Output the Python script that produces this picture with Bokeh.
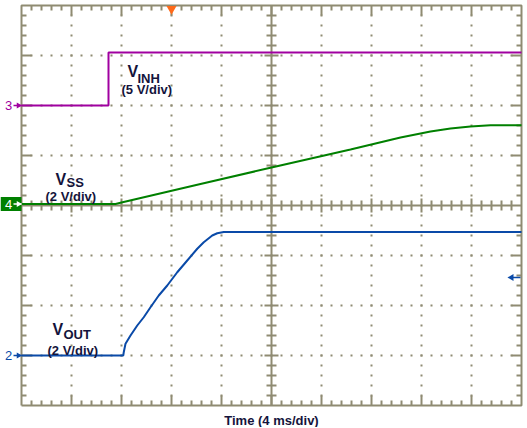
import numpy as np
from bokeh.plotting import figure
from bokeh.models import Range1d
from bokeh.core.properties import value
from bokeh.embed import file_html
from bokeh.resources import INLINE

# ---------------- data (time in ms, voltage in V) ----------------
vinh_t_ms = [0, 6.96, 6.96, 40]
vinh_v = [0, 0, 5.3, 5.3]

vss_t_ms = [0, 7.52, 8.0, 14.32, 20.0, 26.32, 30.32, 32.72, 34.32, 35.92, 37.52, 40]
vss_v = [0, 0, 0.06, 0.80, 1.46, 2.18, 2.66, 2.90, 3.02, 3.10, 3.15, 3.15]

vout_t_ms = [0, 8.14, 8.18, 8.32, 8.72, 9.26, 9.78, 10.32, 10.98, 11.66, 12.46,
             13.26, 14.06, 14.58, 15.26, 15.66, 16.18, 40]
vout_v = [0, 0, 0.13, 0.47, 0.80, 1.20, 1.53, 1.93, 2.40, 2.80, 3.33,
          3.80, 4.27, 4.53, 4.80, 4.89, 4.94, 4.94]

ms_per_div = 4
channels = {
    # name: (V/div, ground position in divisions, colour)
    "VINH": (5, 2.0, "#a000a0"),
    "VSS": (2, 0.03, "#008000"),
    "VOUT": (2, -3.0, "#0a4aa8"),
}
x_label = "Time (4 ms/div)"

# ---------------- helpers: page px -> division coordinates ----------------
OX, OY = 0, 0  # canvas origin on the page


def X(px):
    return (px - 21) / 50.0


def Y(py):
    return (205 - py) / 50.0


W, H = 526, 427
p = figure(width=W, height=H, output_backend="svg", toolbar_location=None,
           x_range=Range1d(X(OX), X(OX + W)), y_range=Range1d(Y(OY + H), Y(OY)),
           x_axis_type=None, y_axis_type=None, min_border=0)
p.outline_line_color = None
p.background_fill_color = "white"
p.border_fill_color = "white"
p.grid.visible = False

gc = "#8f8b72"

# dotted grid
dx, dy = [], []
for gx in [1, 2, 3, 4, 6, 7, 8, 9]:
    for k in range(-19, 20):
        dx.append(gx); dy.append(k * 0.2)
for gy in [-3, -2, -1, 1, 2, 3]:
    for k in range(1, 50):
        dx.append(k * 0.2); dy.append(gy)
p.scatter(dx, dy, marker="square", size=2, fill_color=gc, line_color=None)

# border and centre cross
p.line([0, 10, 10, 0, 0], [-4, -4, 4, 4, -4], line_color=gc, line_width=2)
p.segment(x0=[0, 5], y0=[0, -4], x1=[10, 5], y1=[0, 4], line_color=gc, line_width=2)

sx0, sy0, sx1, sy1 = [], [], [], []
for k in range(1, 50):
    xv = k * 0.2
    major = (k % 5 == 0)
    ln = 0.2 if major else 0.1
    cl = 0.14 if major else 0.1
    sx0 += [xv, xv, xv]; sx1 += [xv, xv, xv]
    sy0 += [4, -4, -cl]; sy1 += [4 - ln, -4 + ln, cl]
for k in range(-19, 20):
    if k == 0:
        continue
    yv = k * 0.2
    major = (k % 5 == 0)
    ln = 0.2 if major else 0.1
    cl = 0.14 if major else 0.1
    sx0 += [0, 10, 5 - cl]; sx1 += [ln, 10 - ln, 5 + cl]
    sy0 += [yv, yv, yv]; sy1 += [yv, yv, yv]
p.segment(x0=sx0, y0=sy0, x1=sx1, y1=sy1, line_color=gc, line_width=2)

# traces
for name, tt, vv in [("VINH", vinh_t_ms, vinh_v), ("VSS", vss_t_ms, vss_v), ("VOUT", vout_t_ms, vout_v)]:
    vdiv, g, col = channels[name]
    xs = [t / ms_per_div for t in tt]
    ys = [g + v / vdiv for v in vv]
    p.line(xs, ys, line_color=col, line_width=2)

# trigger marker
p.scatter([X(171)], [Y(8.5)], marker="inverted_triangle", size=10,
          fill_color="#ff6a1a", line_color=None)

# channel ground markers
font = value("Liberation Sans")
p.rect([X(10.5)], [channels["VSS"][1]], width=21, height=14, width_units="screen",
       height_units="screen", fill_color="#008000", line_color=None)
for name, txt, tc in [("VINH", "3", "#a000a0"), ("VSS", "4", "white"), ("VOUT", "2", "#0a4aa8")]:
    g = channels[name][1]
    p.text([X(8)], [g], text=[txt], text_color=tc, text_font=font, text_font_size="13px",
           text_align="center", text_baseline="middle")
    p.segment([X(13)], [g], [X(21)], [g], line_color=tc, line_width=1.5)
    p.scatter([X(18)], [g], marker="triangle", angle=-np.pi / 2, size=6,
              fill_color=tc, line_color=None)

# right-side arrow (VOUT)
p.segment([X(510)], [Y(277)], [X(520)], [Y(277)], line_color="#0a4aa8", line_width=1.5)
p.scatter([X(511)], [Y(277)], marker="triangle", angle=np.pi / 2, size=7,
          fill_color="#0a4aa8", line_color=None)

# labels
tcol = "#14143c"


def label(px, py, s, size, bold=True):
    p.text([X(px)], [Y(py)], text=[s], text_color=tcol, text_font=font,
           text_font_size=size, text_font_style="bold" if bold else "normal",
           text_align="left", text_baseline="alphabetic")


label(127, 71, "V", "16px")
label(137, 78, "INH", "13px")
label(121, 89, "(5 V/div)", "13px")

label(55, 179, "V", "16px")
label(66, 182, "SS", "13px")
label(45, 196, "(2 V/div)", "13px")

label(52, 329, "V", "16px")
label(63, 334, "OUT", "13px")
label(47, 350, "(2 V/div)", "13px")

p.text([X(271)], [Y(420)], text=[x_label], text_color=tcol, text_font=font,
       text_font_size="13px", text_font_style="bold", text_align="center",
       text_baseline="alphabetic")

open("out.html", "w").write(file_html(p, INLINE))
